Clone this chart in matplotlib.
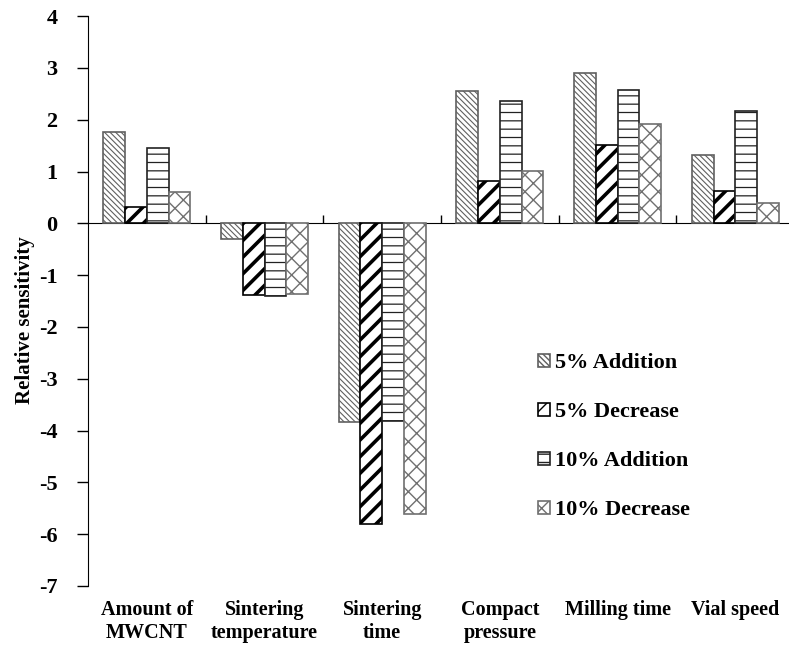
import matplotlib
matplotlib.use("Agg")
import matplotlib.pyplot as plt
import numpy as np

# Relative sensitivity of each parameter
categories = ["Amount of\nMWCNT", "Sintering\ntemperature", "Sintering\ntime",
              "Compact\npressure", "Milling time", "Vial speed"]
add_5 = [1.77, -0.30, -3.84, 2.55, 2.91, 1.32]
dec_5 = [0.31, -1.38, -5.81, 0.82, 1.51, 0.63]
add_10 = [1.45, -1.40, -3.81, 2.36, 2.58, 2.16]
dec_10 = [0.61, -1.37, -5.62, 1.02, 1.91, 0.39]
series_names = ["5% Addition", "5% Decrease", "10% Addition", "10% Decrease"]

plt.rcParams['font.family'] = 'Liberation Serif'
plt.rcParams['font.weight'] = 'bold'
plt.rcParams['axes.labelweight'] = 'bold'
plt.rcParams['axes.unicode_minus'] = False

fig = plt.figure(figsize=(7.89, 6.46), dpi=100)
ax = fig.add_axes([0.1115, 0.093, 0.895, 0.882])

x = np.arange(len(categories))
w = 0.185
styles = [
    dict(hatch='\\' * 6, edgecolor='#606060', lw_h=0.8),
    dict(hatch='//', edgecolor='black', lw_h=2.6),
    dict(hatch='--', edgecolor='#222222', lw_h=0.9),
    dict(hatch='xx', edgecolor='#707070', lw_h=1.0),
]
all_series = [add_5, dec_5, add_10, dec_10]
for i, (vals, st) in enumerate(zip(all_series, styles)):
    plt.rcParams['hatch.linewidth'] = st['lw_h']
    bars = ax.bar(x + (i - 1.5) * w, vals, w, color='white', edgecolor=st['edgecolor'],
                  hatch=st['hatch'], linewidth=1.2, label=series_names[i])
    for b in bars:
        if hasattr(b, 'set_hatch_linewidth'):
            b.set_hatch_linewidth(st['lw_h'])

ymin, ymax = -7, 4
ax.set_ylim(ymin, ymax)
ax.set_xlim(-0.5, len(categories) - 0.5)
ax.set_yticks(range(ymin, ymax + 1))
ax.tick_params(axis='y', direction='out', length=8, width=1, pad=14, labelsize=16)
ax.set_xticks(x)
ax.set_xticklabels(categories, fontsize=14.5, fontweight='bold', linespacing=1.2)
ax.tick_params(axis='x', length=0, pad=10)

for s in ['top', 'right', 'bottom']:
    ax.spines[s].set_visible(False)

# zero line with boundary ticks
zero_ax = ax.secondary_xaxis((0 - ymin) / (ymax - ymin))
zero_ax.set_xticks(x[:-1] + 0.5)
zero_ax.set_xticklabels([])
zero_ax.tick_params(direction='out', length=6, width=1)

ax.set_ylabel("Relative sensitivity", fontsize=15, fontweight='bold')
ax.yaxis.set_label_coords(-0.075, 0.467)

ax.legend(loc='upper left', bbox_to_anchor=(0.668, 0.47), bbox_transform=fig.transFigure,
          frameon=False, handlelength=0.55, handleheight=0.55,
          handletextpad=0.2, labelspacing=1.3, borderpad=0,
          prop=dict(family='Liberation Serif', weight='bold', size=16))

plt.savefig("out.png", dpi=100)
